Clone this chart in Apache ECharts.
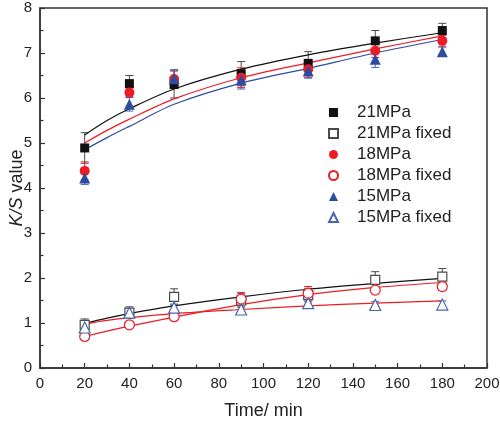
<!DOCTYPE html>
<html><head><meta charset="utf-8">
<script src="https://cdn.jsdelivr.net/npm/echarts@6/dist/echarts.min.js"></script>
<style>html,body{margin:0;padding:0;background:#fff}#c{width:500px;height:423px}</style>
</head><body><div id="c"></div>
<script>
var times = [20, 40, 60, 90, 120, 150, 180];
var mpa21 = [4.89, 6.32, 6.30, 6.54, 6.77, 7.27, 7.50];
var mpa18 = [4.38, 6.12, 6.42, 6.45, 6.64, 7.05, 7.27];
var mpa15 = [4.22, 5.86, 6.43, 6.40, 6.60, 6.86, 7.03];
var mpa21f = [0.96, 1.23, 1.58, 1.50, 1.62, 1.96, 2.03];
var mpa18f = [0.70, 0.96, 1.14, 1.53, 1.66, 1.73, 1.81];
var mpa15f = [0.90, 1.23, 1.34, 1.30, 1.44, 1.40, 1.41];
var err21 = [0.34, 0.18, 0.30, 0.27, 0.26, 0.23, 0.16];
var err18 = [0.20, 0.10, 0.20, 0.22, 0.18, 0.15, 0.12];
var err15 = [0.14, 0.15, 0.20, 0.20, 0.16, 0.18, 0.10];
var err21f = [0.13, 0.13, 0.18, 0.15, 0.15, 0.18, 0.18];
var err18f = [0.06, 0.06, 0.06, 0.15, 0.15, 0.08, 0.08];
var err15f = [0.06, 0.08, 0.08, 0.10, 0.08, 0.08, 0.08];
var fitX = [20, 30, 40, 60, 90, 120, 150, 180];
var fit21 = [5.18, 5.50, 5.76, 6.20, 6.64, 6.96, 7.22, 7.45];
var fit18 = [5.00, 5.28, 5.53, 5.98, 6.45, 6.78, 7.09, 7.38];
var fit15 = [4.85, 5.12, 5.37, 5.86, 6.33, 6.66, 7.00, 7.30];
var fit21f = [0.99, 1.11, 1.21, 1.38, 1.58, 1.75, 1.88, 1.99];
var fit18f = [0.70, 0.82, 0.93, 1.13, 1.41, 1.63, 1.79, 1.90];
var fit15f = [0.98, 1.06, 1.12, 1.21, 1.30, 1.38, 1.44, 1.49];
var names = ['21MPa', '21MPa fixed', '18MPa', '18MPa fixed', '15MPa', '15MPa fixed'];

var BLACK = '#111111', GREY = '#4a4a4a', RED = '#ec1c24', BLUE = '#2c4c9f', LBLUE = '#4a64b0';
function pts(xs, ys) { return xs.map(function (x, i) { return [x, ys[i]]; }); }
function errSeries(vals, errs, color) {
  return {
    type: 'custom', silent: true, z: 1,
    data: times.map(function (t, i) { return [t, vals[i] - errs[i], vals[i] + errs[i]]; }),
    renderItem: function (params, api) {
      var lo = api.coord([api.value(0), api.value(1)]);
      var hi = api.coord([api.value(0), api.value(2)]);
      var w = 4;
      var st = { stroke: color, lineWidth: 1 };
      return { type: 'group', children: [
        { type: 'line', shape: { x1: lo[0], y1: lo[1], x2: hi[0], y2: hi[1] }, style: st },
        { type: 'line', shape: { x1: hi[0] - w, y1: hi[1], x2: hi[0] + w, y2: hi[1] }, style: st },
        { type: 'line', shape: { x1: lo[0] - w, y1: lo[1], x2: lo[0] + w, y2: lo[1] }, style: st }
      ]};
    }
  };
}
function fitLine(ys, color) {
  return { type: 'line', data: pts(fitX, ys), smooth: 0.3, showSymbol: false, silent: true,
    lineStyle: { color: color, width: 1.2 }, z: 2 };
}
function scat(name, ys, symbol, size, fill, stroke) {
  return { name: name, type: 'scatter', data: pts(times, ys), symbol: symbol, symbolSize: size, z: 5,
    itemStyle: { color: fill, borderColor: stroke, borderWidth: fill === '#fff' ? 1.2 : 0, opacity: 1 } };
}
var chart = echarts.init(document.getElementById('c'));
chart.setOption({
  animation: false,
  grid: { left: 40, right: 13, top: 8, bottom: 55, outerBoundsMode: 'none', containLabel: false,
    show: true, borderColor: '#333', borderWidth: 1.5, backgroundColor: 'transparent' },
  legend: {
    orient: 'vertical', left: 323, top: 99, itemWidth: 9, itemHeight: 9, itemGap: 4,
    data: names, textStyle: { fontFamily: 'Liberation Sans, Arial', fontSize: 17, color: '#222', padding: [0, 0, 0, 14] }
  },
  xAxis: {
    type: 'value', min: 0, max: 200, interval: 20,
    name: 'Time/ min', nameLocation: 'middle', nameGap: 34, nameMoveOverlap: false,
    nameTextStyle: { fontFamily: 'Liberation Sans, Arial', fontSize: 18, color: '#222' },
    axisLine: { lineStyle: { color: '#333', width: 1.5 } },
    axisTick: { inside: true, length: 5, lineStyle: { color: '#333', width: 1.2 } },
    minorTick: { show: true, splitNumber: 2, length: 3.5, lineStyle: { color: '#333', width: 1.2 } },
    axisLabel: { fontFamily: 'Liberation Sans, Arial', fontSize: 15, color: '#222', margin: 8 },
    splitLine: { show: false }
  },
  yAxis: {
    type: 'value', min: 0, max: 8, interval: 1,
    name: '{i|K/S} value', nameLocation: 'middle', nameGap: 14, nameRotate: 90, nameMoveOverlap: false,
    nameTextStyle: { fontFamily: 'Liberation Sans, Arial', fontSize: 18, color: '#222',
      rich: { i: { fontStyle: 'italic', fontFamily: 'Liberation Sans, Arial', fontSize: 18, color: '#222' } } },
    axisLine: { lineStyle: { color: '#333', width: 1.5 } },
    axisTick: { inside: true, length: 5, lineStyle: { color: '#333', width: 1.2 } },
    minorTick: { show: true, splitNumber: 2, length: 3.5, lineStyle: { color: '#333', width: 1.2 } },
    axisLabel: { fontFamily: 'Liberation Sans, Arial', fontSize: 15, color: '#222', margin: 8 },
    splitLine: { show: false }
  },
  series: [
    errSeries(mpa21, err21, GREY), errSeries(mpa18, err18, RED), errSeries(mpa15, err15, LBLUE),
    errSeries(mpa21f, err21f, GREY), errSeries(mpa18f, err18f, RED), errSeries(mpa15f, err15f, LBLUE),
    fitLine(fit21, BLACK), fitLine(fit18, RED), fitLine(fit15, BLUE),
    fitLine(fit21f, BLACK), fitLine(fit18f, RED), fitLine(fit15f, RED),
    scat('21MPa', mpa21, 'rect', 9, BLACK, BLACK),
    scat('21MPa fixed', mpa21f, 'rect', 9, '#fff', GREY),
    scat('18MPa', mpa18, 'circle', 10, RED, RED),
    scat('18MPa fixed', mpa18f, 'circle', 10, '#fff', RED),
    scat('15MPa', mpa15, 'triangle', 11, BLUE, BLUE),
    scat('15MPa fixed', mpa15f, 'triangle', 11, '#fff', LBLUE)
  ]
});
</script></body></html>
